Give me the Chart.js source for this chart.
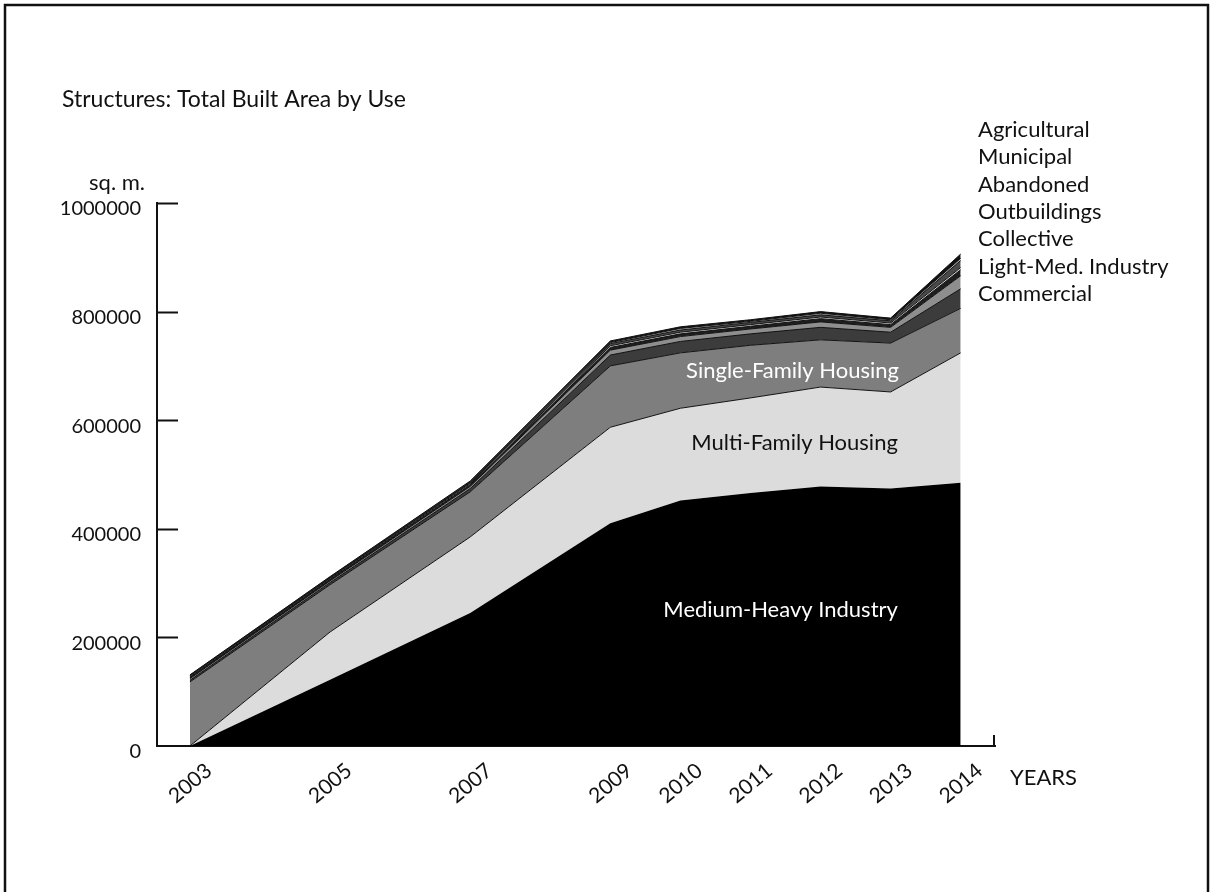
<!DOCTYPE html>
<html>
<head>
<meta charset="utf-8">
<script src="https://cdn.jsdelivr.net/npm/chart.js@4/dist/chart.umd.min.js"></script>
<style>
  html, body { margin: 0; padding: 0; background: #fff; }
  #wrap { width: 1214px; height: 892px; position: relative; }
</style>
</head>
<body>
<div id="wrap"><canvas id="chart" width="1214" height="892"></canvas></div>
<script>
// data (sq. m.)
const years        = [2003, 2005, 2007, 2009, 2010, 2011, 2012, 2013, 2014];
const mediumHeavy  = [0, 122000, 245000, 410000, 452000, 466000, 478000, 474000, 485000];
const multiFamily  = [0, 88000, 140000, 177000, 170000, 175000, 183000, 178000, 239000];
const singleFamily = [118000, 87000, 83000, 113000, 102000, 97000, 87000, 90000, 82000];
const commercial   = [3000, 4000, 6000, 20000, 21000, 21000, 23000, 20000, 36000];
const lightMed     = [3000, 3000, 4000, 9000, 9000, 9000, 10000, 9000, 24000];
const collective   = [2000, 2000, 3000, 5000, 5000, 5000, 6000, 5000, 11000];
const outbuildings = [1000, 1000, 2000, 3000, 3000, 3000, 3000, 3000, 4000];
const abandoned    = [2000, 2000, 2000, 4000, 4000, 4000, 4000, 4000, 13000];
const municipal    = [1000, 1000, 1000, 2000, 3000, 2000, 3000, 2000, 4000];
const agricultural = [1000, 2000, 2000, 3000, 3000, 3000, 3000, 3000, 8000];

const yTicks = [0, 200000, 400000, 600000, 800000, 1000000];
const legendNames = ["Agricultural", "Municipal", "Abandoned", "Outbuildings",
                     "Collective", "Light-Med. Industry", "Commercial"];

// in-area labels: [text, year, value, colour]
const areaLabels = [
  ["Single-Family Housing", 2011.6, 690000, "#ffffff"],
  ["Multi-Family Housing", 2011.63, 558000, "#111111"],
  ["Medium-Heavy Industry", 2011.43, 250000, "#ffffff"],
];

const FONT = "Lato, 'Open Sans', sans-serif";

const series = [
  { label: "Medium-Heavy Industry", data: mediumHeavy, color: "#000000" },
  { label: "Multi-Family Housing", data: multiFamily, color: "#dcdcdc" },
  { label: "Single-Family Housing", data: singleFamily, color: "#7e7e7e" },
  { label: "Commercial", data: commercial, color: "#3c3c3c" },
  { label: "Light-Med. Industry", data: lightMed, color: "#8e8e8e" },
  { label: "Collective", data: collective, color: "#1e1e1e" },
  { label: "Outbuildings", data: outbuildings, color: "#d8d8d8" },
  { label: "Abandoned", data: abandoned, color: "#4a4a4a" },
  { label: "Municipal", data: municipal, color: "#b5b5b5" },
  { label: "Agricultural", data: agricultural, color: "#111111" },
];

const datasets = series.map((s, i) => ({
  label: s.label,
  data: years.map((x, j) => ({ x, y: s.data[j] })),
  backgroundColor: s.color,
  borderColor: "#111",
  borderWidth: i === 0 ? 0 : 1,
  fill: i === 0 ? "origin" : "-1",
  pointRadius: 0,
  tension: 0,
}));

// texts, frame and inside tick marks
const decor = {
  id: "decor",
  afterDraw(chart) {
    const { ctx, scales: { x, y } } = chart;
    ctx.save();
    // frame
    ctx.strokeStyle = "#111";
    ctx.lineWidth = 2.5;
    ctx.beginPath();
    ctx.moveTo(5, 892); ctx.lineTo(5, 5); ctx.lineTo(1208, 5); ctx.lineTo(1208, 892);
    ctx.stroke();

    // inside tick marks on y axis, end cap on x axis
    ctx.lineWidth = 2;
    ctx.beginPath();
    yTicks.slice(1).forEach(v => {
      const py = Math.round(y.getPixelForValue(v)) + 0.5;
      ctx.moveTo(x.left, py); ctx.lineTo(x.left + 21, py);
    });
    ctx.moveTo(x.right - 1, y.bottom); ctx.lineTo(x.right - 1, y.bottom - 11);
    ctx.stroke();

    ctx.fillStyle = "#111";
    ctx.textBaseline = "middle";
    ctx.font = "23px " + FONT;
    ctx.textAlign = "left";
    ctx.fillText("Structures: Total Built Area by Use", 62, 100);
    ctx.font = "22px " + FONT;
    ctx.fillText("YEARS", 1010, 778);
    ctx.textAlign = "right";
    ctx.fillText("sq. m.", 145, 183);
    ctx.textAlign = "left";
    legendNames.forEach((n, i) => ctx.fillText(n, 978, 130 + i * 27.3));

    ctx.textAlign = "center";
    areaLabels.forEach(([t, xv, yv, c]) => {
      ctx.fillStyle = c;
      ctx.fillText(t, x.getPixelForValue(xv), y.getPixelForValue(yv));
    });
    ctx.restore();
  }
};

new Chart(document.getElementById("chart"), {
  type: "line",
  data: { datasets },
  options: {
    responsive: false,
    animation: false,
    layout: { padding: { left: 0, top: 203, right: 219, bottom: 0 } },
    plugins: { legend: { display: false }, tooltip: { enabled: false } },
    scales: {
      x: {
        type: "linear",
        min: 2002.53,
        max: 2014.49,
        afterBuildTicks: s => { s.ticks = years.map(v => ({ value: v })); },
        afterFit: s => { s.height = 146; },
        grid: { display: false, drawTicks: false },
        border: { color: "#111", width: 2 },
        ticks: {
          minRotation: 40, maxRotation: 40, padding: 12, labelOffset: 19,
          color: "#111", font: { family: FONT, size: 21 },
          callback: v => String(v),
        },
      },
      y: {
        stacked: true,
        min: 0,
        max: 1000000,
        afterBuildTicks: s => { s.ticks = yTicks.map(v => ({ value: v })); },
        afterFit: s => { s.width = 157; },
        grid: { display: false, drawTicks: false },
        border: { color: "#111", width: 2 },
        ticks: {
          padding: 16, labelOffset: 6,
          color: "#111", font: { family: FONT, size: 20 },
          callback: v => String(v),
        },
      },
    },
  },
  plugins: [decor],
});
</script>
</body>
</html>
